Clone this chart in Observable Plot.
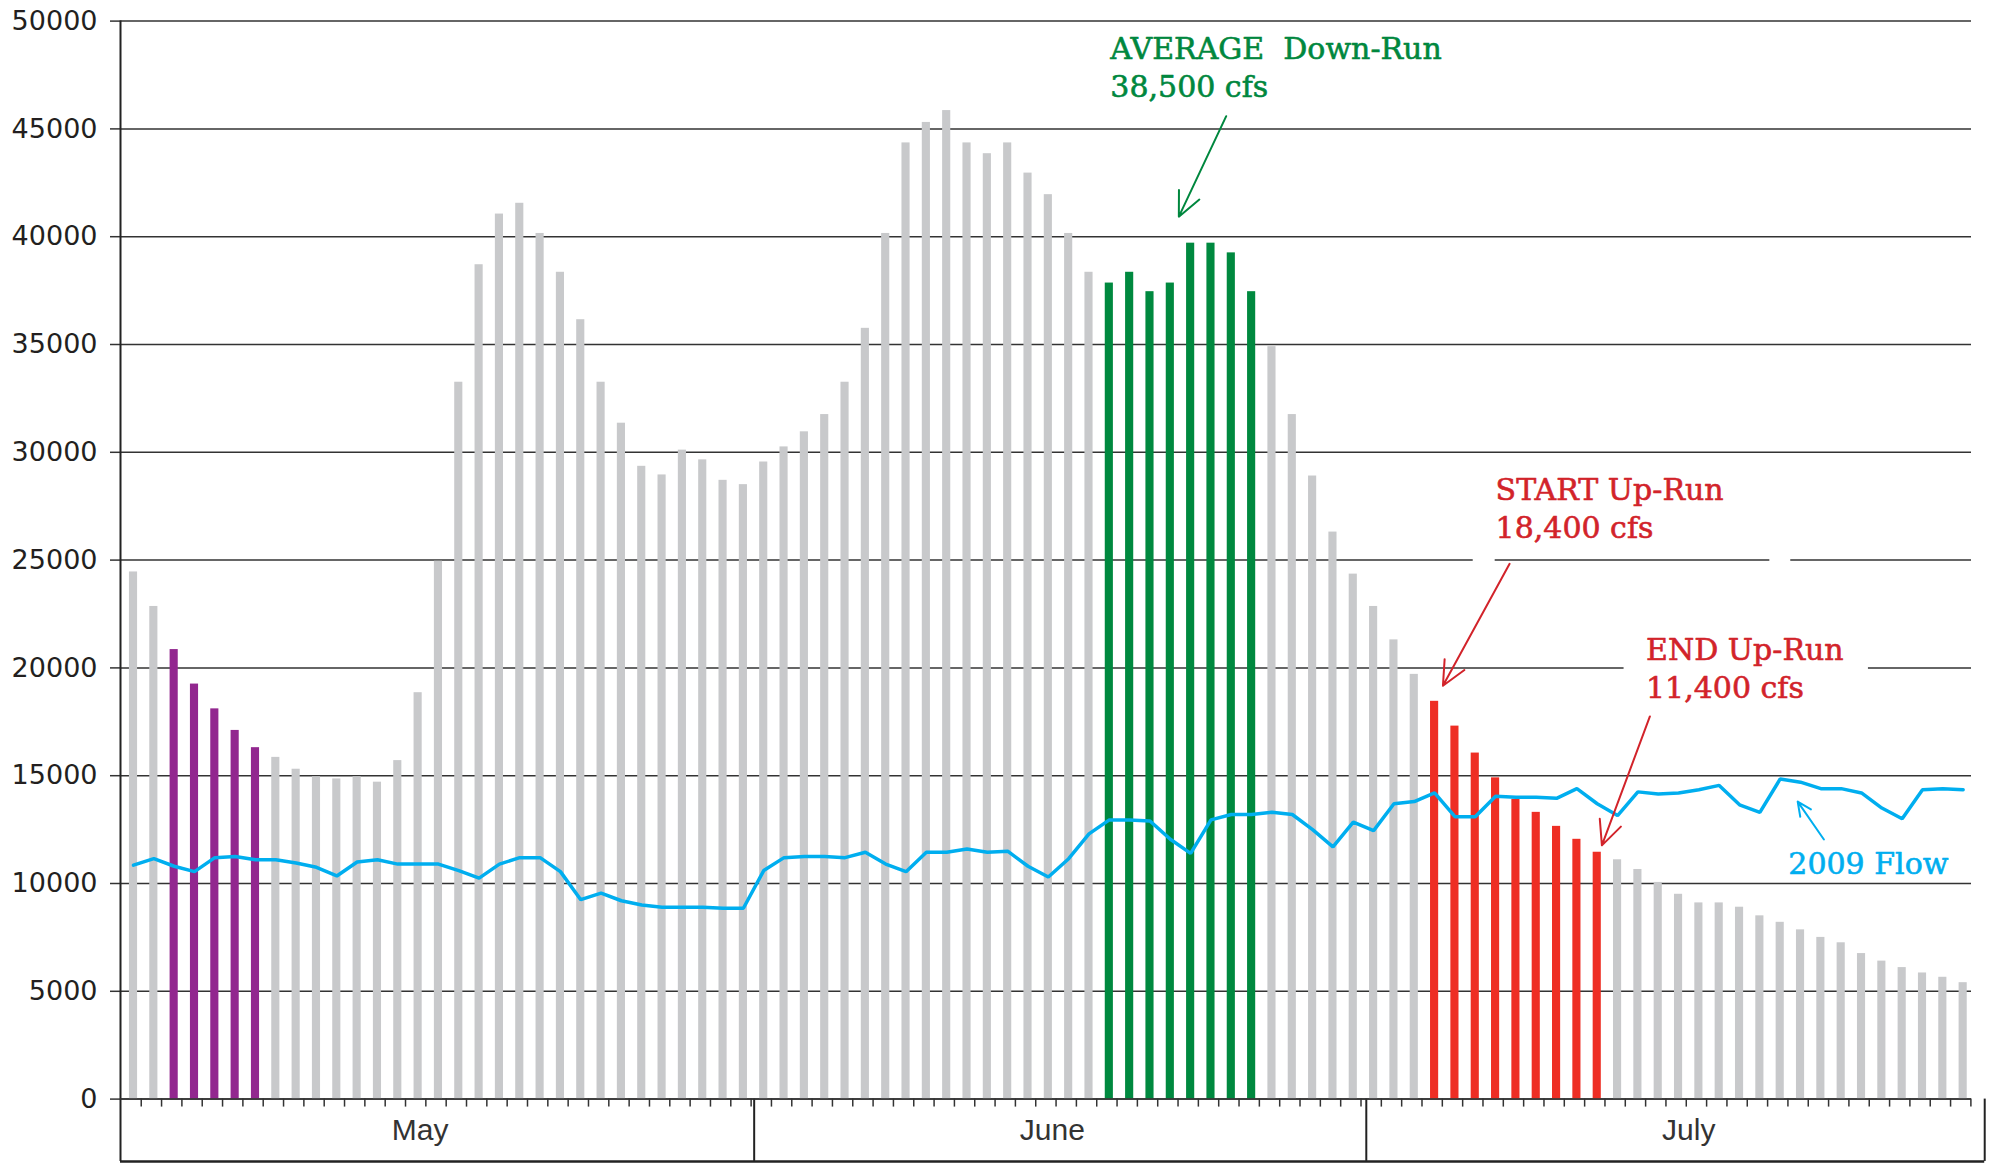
<!DOCTYPE html>
<html>
<head>
<meta charset="utf-8">
<script src="https://cdn.jsdelivr.net/npm/d3@7"></script>
<script src="https://cdn.jsdelivr.net/npm/@observablehq/plot@0.6"></script>
<style>
html, body { margin: 0; padding: 0; background: #fff; }
#chart svg text { white-space: pre; }
</style>
</head>
<body>
<div id="chart"></div>
<script>
// ---- data ----
const months = ["May", "June", "July"];
const monthDays = [31, 30, 30];
const monthLabelDay = [14.1, 45.2, 76.5];

// average daily flow (cfs), May 1 .. July 30
const avgFlow = [
  // May
  24450, 22850, 20850, 19250, 18100, 17100, 16300, 15850, 15300, 14950,
  14850, 14950, 14700, 15700, 18850, 24950, 33250, 38700, 41050, 41550,
  40150, 38350, 36150, 33250, 31350, 29350, 28950, 30100, 29650, 28700, 28500,
  // June
  29550, 30250, 30950, 31750, 33250, 35750, 40150, 44350, 45300, 45850,
  44350, 43850, 44350, 42950, 41950, 40150, 38350, 37850, 38350, 37450,
  37850, 39700, 39700, 39250, 37450, 34900, 31750, 28900, 26300, 24350,
  // July
  22850, 21300, 19700, 18450, 17300, 16050, 14900, 13900, 13300, 12650,
  12050, 11450, 11100, 10650, 10050, 9500, 9100, 9100, 8900, 8500,
  8200, 7850, 7500, 7250, 6750, 6400, 6100, 5850, 5650, 5400
];

// 2009 daily flow (cfs)
const flow2009 = [
  // May
  10850, 11150, 10800, 10550, 11200, 11250, 11100, 11100, 10950, 10750,
  10350, 11000, 11100, 10900, 10900, 10900, 10600, 10250, 10900, 11200,
  11200, 10550, 9250, 9550, 9200, 9000, 8900, 8900, 8900, 8850, 8850,
  // June
  10600, 11200, 11250, 11250, 11200, 11450, 10900, 10550, 11450, 11450,
  11600, 11450, 11500, 10800, 10300, 11150, 12300, 12950, 12950, 12900,
  12050, 11400, 12950, 13200, 13200, 13300, 13200, 12500, 11700, 12850,
  // July
  12450, 13700, 13800, 14200, 13100, 13100, 14050, 14000, 14000, 13950,
  14400, 13700, 13150, 14250, 14150, 14200, 14350, 14550, 13650, 13300,
  14850, 14700, 14400, 14400, 14200, 13500, 13000, 14350, 14400, 14350
];

// highlighted runs (day index, 0 = May 1)
const runNames = ["early", "down", "up"];
const runFirstDay = [2, 48, 64];
const runLastDay = [6, 55, 72];

const yTicks = [0, 5000, 10000, 15000, 20000, 25000, 30000, 35000, 40000, 45000, 50000];

// annotations
const annoText = ["AVERAGE  Down-Run\n38,500 cfs", "START Up-Run\n18,400 cfs", "END Up-Run\n11,400 cfs", "2009 Flow"];
const annoDay = [48.05, 67.0, 74.4, 81.4];
const annoValue = [46480, 26015, 18590, 10440];
const arrowFromDay = [53.75, 67.69, 74.59, 83.15];
const arrowFromValue = [45590, 24830, 17750, 12040];
const arrowToDay = [51.42, 64.41, 72.23, 81.86];
const arrowToValue = [40930, 19170, 11770, 13800];

// ---- styles ----
const palette = {base: "#C8C9CB", early: "#92278F", down: "#00893F", up: "#EE2E24"};
const annoColor = ["#00873E", "#D2232A", "#D2232A", "#00AEEF"];

// ---- derived table ----
const days = avgFlow.map((v, i) => {
  let cat = "base";
  runNames.forEach((r, k) => { if (i >= runFirstDay[k] && i <= runLastDay[k]) cat = r; });
  return {i, flow: v, flow2009: flow2009[i], cat};
});
const monthStart = monthDays.map((d, k) => d3.sum(monthDays.slice(0, k)));

const xLeft = -0.64, xRight = 90.41, xBoxRight = 91.06;
const sepDays = [monthStart[1] - 0.47, monthStart[2] - 0.36];
const boxBottom = -2890;
const dayTicks = days.map(d => d.i + 0.38);

const annos = annoText.map((t, k) => ({t, x: annoDay[k], y: annoValue[k], c: annoColor[k],
  x1: arrowFromDay[k], y1: arrowFromValue[k], x2: arrowToDay[k], y2: arrowToValue[k]}));

// small white cut-outs in gridlines behind the labels
const gaps = [
  {x1: 65.9, x2: 66.98, y1: 24700, y2: 25300},
  {x1: 80.49, x2: 81.52, y1: 24700, y2: 25300},
  {x1: 73.32, x2: 85.34, y1: 19700, y2: 20300}
];

const serif = "'DejaVu Serif', serif";

const chart = Plot.plot({
  width: 1998,
  height: 1165,
  marginLeft: 120,
  marginRight: 27,
  marginTop: 20.6,
  marginBottom: 66.4,
  x: {type: "linear", domain: [xLeft, xRight]},
  y: {domain: [0, 50000]},
  style: {background: "#fff", color: "#231F20", overflow: "visible"},
  marks: [
    Plot.gridY(yTicks, {stroke: "#333", strokeOpacity: 1, strokeWidth: 1.5}),
    Plot.rect(gaps, {x1: "x1", x2: "x2", y1: "y1", y2: "y2", fill: "#fff"}),
    Plot.axisY(yTicks, {tickSize: 10, tickPadding: 13, fontSize: 27, fontFamily: "'DejaVu Sans', sans-serif",
      tickFormat: d => String(d), label: null, stroke: "#333", strokeWidth: 1.5, fill: "#231F20"}),
    Plot.axisX(dayTicks, {tickSize: 8, tickFormat: () => "", label: null, stroke: "#333", strokeWidth: 1.5}),
    Plot.rectY(days, {x1: d => d.i - 0.2, x2: d => d.i + 0.2, y: "flow", fill: d => palette[d.cat]}),
    Plot.line(days, {x: "i", y: "flow2009", stroke: "#00AEEF", strokeWidth: 3.5, strokeLinejoin: "miter"}),
    // axis line and month box
    Plot.ruleX([xLeft], {y1: boxBottom, y2: 50000, stroke: "#222", strokeWidth: 2}),
    Plot.ruleX(sepDays.concat([xBoxRight]), {y1: 0, y2: boxBottom, stroke: "#222", strokeWidth: 2}),
    Plot.ruleY([0], {x1: xLeft, x2: xRight, stroke: "#333", strokeWidth: 1.5}),
    Plot.ruleY([boxBottom], {x1: xLeft, x2: xBoxRight, stroke: "#222", strokeWidth: 2.5}),
    Plot.text(months, {x: (d, k) => monthLabelDay[k], y: -1920, text: d => d, lineAnchor: "bottom",
      textAnchor: "middle", fontSize: 30, fontFamily: "'Liberation Sans', Arial, sans-serif", fill: "#333"}),
    // annotations
    Plot.text(annos, {x: "x", y: "y", text: "t", fill: "c", stroke: "c", strokeWidth: 0.6,
      textAnchor: "start", lineAnchor: "bottom", lineHeight: 1.27, fontSize: 30, fontFamily: serif}),
    Plot.arrow(annos, {x1: "x1", y1: "y1", x2: "x2", y2: "y2", stroke: "c", strokeWidth: 2,
      headLength: 20, headAngle: 50})
  ]
});

document.getElementById("chart").appendChild(chart);
</script>
</body>
</html>
